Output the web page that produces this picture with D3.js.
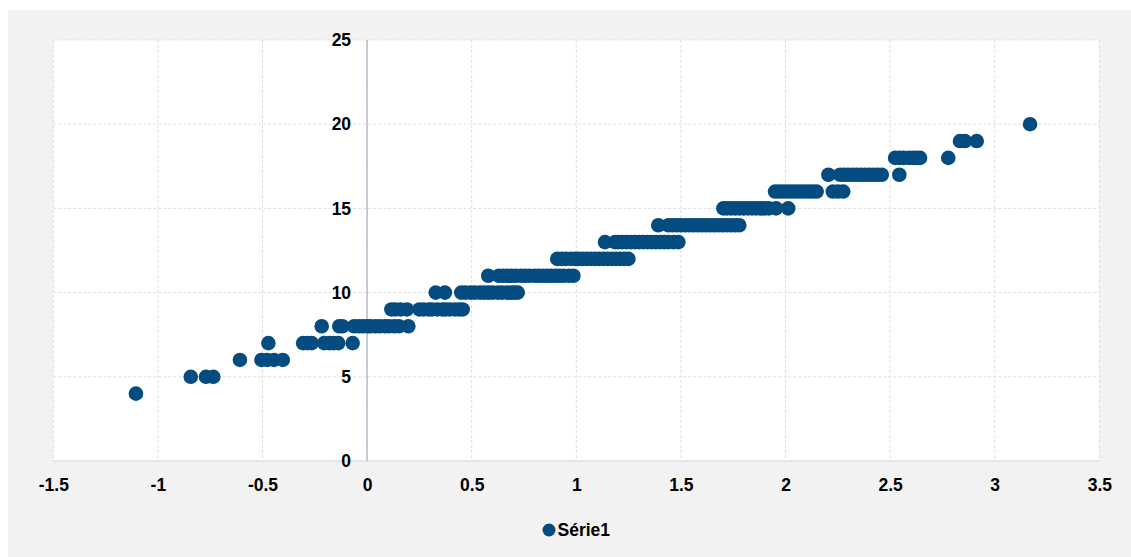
<!DOCTYPE html>
<html>
<head>
<meta charset="utf-8">
<script src="https://cdn.jsdelivr.net/npm/d3@7"></script>
<style>
  html, body { margin: 0; padding: 0; background: #ffffff; }
  svg { display: block; }
  text { font-family: "Liberation Sans", Arial, sans-serif; font-weight: bold; fill: #000; }
</style>
</head>
<body>
<svg id="chart" width="1131" height="557"></svg>
<script>
// Series values: each y level with the x positions observed at that level
const levels = [4, 5, 6, 7, 8, 9, 10, 11, 12, 13, 14, 15, 16, 17, 18, 19, 20];
const xAt4  = [-1.105];
const xAt5  = [-0.843, -0.770, -0.735];
const xAt6  = [-0.608, -0.505, -0.478, -0.445, -0.403];
const xAt7  = [-0.472, -0.306, -0.285, -0.265, -0.205, -0.180, -0.160, -0.138, -0.069];
const xAt8  = [-0.217, -0.133, -0.118, -0.062, -0.040, -0.020, 0.000, 0.015, 0.040, 0.060, 0.085, 0.105, 0.130, 0.152, 0.197];
const xAt9  = [0.116, 0.135, 0.160, 0.190, 0.250, 0.270, 0.295, 0.310, 0.335, 0.360, 0.375, 0.395, 0.420, 0.440, 0.457];
const xAt10 = [0.328, 0.372, 0.450, 0.470, 0.495, 0.515, 0.540, 0.560, 0.580, 0.600, 0.625, 0.645, 0.670, 0.690, 0.705, 0.720];
const xAt11 = [0.579, 0.630, 0.650, 0.670, 0.690, 0.710, 0.735, 0.755, 0.775, 0.800, 0.820, 0.840, 0.860, 0.880, 0.900, 0.920, 0.940, 0.965, 0.986];
const xAt12 = [0.909, 0.930, 0.950, 0.975, 0.995, 1.010, 1.030, 1.050, 1.070, 1.090, 1.110, 1.130, 1.150, 1.170, 1.190, 1.210, 1.230, 1.249];
const xAt13 = [1.137, 1.185, 1.200, 1.220, 1.240, 1.260, 1.280, 1.300, 1.320, 1.340, 1.360, 1.380, 1.400, 1.420, 1.440, 1.465, 1.488];
const xAt14 = [1.392, 1.440, 1.460, 1.480, 1.500, 1.520, 1.540, 1.560, 1.580, 1.600, 1.620, 1.640, 1.660, 1.680, 1.700, 1.720, 1.740, 1.760, 1.779];
const xAt15 = [1.703, 1.720, 1.740, 1.760, 1.780, 1.800, 1.820, 1.840, 1.860, 1.880, 1.900, 1.920, 1.955, 2.013];
const xAt16 = [1.950, 1.970, 1.990, 2.010, 2.030, 2.050, 2.070, 2.090, 2.110, 2.130, 2.149, 2.226, 2.250, 2.276];
const xAt17 = [2.205, 2.261, 2.280, 2.300, 2.320, 2.340, 2.360, 2.380, 2.400, 2.420, 2.440, 2.460, 2.544];
const xAt18 = [2.524, 2.545, 2.565, 2.590, 2.610, 2.625, 2.643, 2.778];
const xAt19 = [2.834, 2.858, 2.914];
const xAt20 = [3.169];

const xByLevel = [xAt4, xAt5, xAt6, xAt7, xAt8, xAt9, xAt10, xAt11, xAt12,
                  xAt13, xAt14, xAt15, xAt16, xAt17, xAt18, xAt19, xAt20];

// Axis ticks and labels
const xTicks = [-1.5, -1, -0.5, 0, 0.5, 1, 1.5, 2, 2.5, 3, 3.5];
const xTickLabels = ["-1.5", "-1", "-0.5", "0", "0.5", "1", "1.5", "2", "2.5", "3", "3.5"];
const yTicks = [0, 5, 10, 15, 20, 25];
const yTickLabels = ["0", "5", "10", "15", "20", "25"];
const seriesName = "Série1";

const points = [];
levels.forEach((lv, i) => xByLevel[i].forEach(xv => points.push({ x: xv, y: lv })));

const W = 1131, H = 557;
const plot = { left: 53.3, right: 1099.3, top: 40, bottom: 461 };
const dotColor = "#044b80";
const gridColor = "#d9dfe8";

const svg = d3.select("#chart");

// Chart area background
svg.append("rect").attr("x", 8).attr("y", 10).attr("width", W - 8).attr("height", H - 10)
  .attr("fill", "#f2f2f2");
svg.append("rect").attr("x", plot.left).attr("y", plot.top)
  .attr("width", plot.right - plot.left).attr("height", plot.bottom - plot.top)
  .attr("fill", "#ffffff");

const x = d3.scaleLinear().domain([-1.5, 3.5]).range([plot.left, plot.right]);
const y = d3.scaleLinear().domain([0, 25]).range([plot.bottom, plot.top]);

// Dashed gridlines
const grid = svg.append("g");
grid.selectAll("line.v").data(xTicks).join("line")
  .attr("x1", d => x(d)).attr("x2", d => x(d))
  .attr("y1", plot.top).attr("y2", plot.bottom)
  .attr("stroke", gridColor).attr("stroke-width", 1).attr("stroke-dasharray", "3,2");
grid.selectAll("line.h").data(yTicks.filter(d => d > 0)).join("line")
  .attr("x1", plot.left).attr("x2", plot.right)
  .attr("y1", d => y(d)).attr("y2", d => y(d))
  .attr("stroke", gridColor).attr("stroke-width", 1).attr("stroke-dasharray", "3,2");

// Baseline along y = 0
svg.append("line")
  .attr("x1", plot.left).attr("x2", plot.right)
  .attr("y1", y(0)).attr("y2", y(0))
  .attr("stroke", gridColor).attr("stroke-width", 1.5);

// Vertical axis line at x = 0
svg.append("line")
  .attr("x1", x(0)).attr("x2", x(0))
  .attr("y1", plot.top).attr("y2", plot.bottom)
  .attr("stroke", "#b6c1d2").attr("stroke-width", 1.6);

// Points
svg.append("g").selectAll("circle").data(points).join("circle")
  .attr("cx", d => x(d.x)).attr("cy", d => y(d.y)).attr("r", 7.3)
  .attr("fill", dotColor);

// X axis labels
const xAxis = d3.axisBottom(x).tickValues(xTicks).tickSize(0).tickPadding(18)
  .tickFormat((d, i) => xTickLabels[i]);
const gx = svg.append("g").attr("transform", `translate(0,${plot.bottom})`).call(xAxis);
gx.select(".domain").remove();
gx.selectAll("text").attr("font-size", 17.5).attr("font-family", null).attr("fill", "#000");

// Y axis labels, positioned beside the x = 0 line
const yAxis = d3.axisLeft(y).tickValues(yTicks).tickSize(0).tickPadding(16)
  .tickFormat((d, i) => yTickLabels[i]);
const gy = svg.append("g").attr("transform", `translate(${x(0)},0)`).call(yAxis);
gy.select(".domain").remove();
gy.selectAll("text").attr("font-size", 17.5).attr("font-family", null).attr("fill", "#000");

// Legend
const legend = svg.append("g").attr("transform", "translate(549,530)");
legend.append("circle").attr("r", 6.5).attr("fill", dotColor);
legend.append("text").attr("x", 8.5).attr("dy", "0.35em").attr("font-size", 17.5).text(seriesName);
</script>
</body>
</html>
